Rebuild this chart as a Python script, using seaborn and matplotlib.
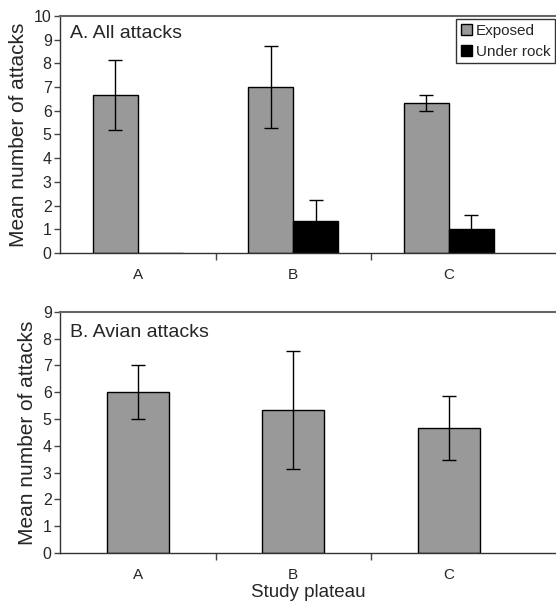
import pandas as pd
import matplotlib.pyplot as plt
import seaborn as sns

# Data
plateaus = ["A", "B", "C"]
exposed_all = [6.67, 7.0, 6.33]
exposed_all_err = [1.47, 1.73, 0.33]
rock_all = [0.0, 1.33, 1.0]
rock_all_err = [float("nan"), 0.89, 0.58]
avian = [6.0, 5.33, 4.67]
avian_err = [1.0, 2.2, 1.2]

sns.set_style("white")
plt.rcParams["font.family"] = ["Liberation Sans", "DejaVu Sans"]

df_all = pd.DataFrame({
    "plateau": plateaus * 2,
    "mean": exposed_all + rock_all,
    "err": exposed_all_err + rock_all_err,
    "site": ["Exposed"] * 3 + ["Under rock"] * 3,
})
df_avian = pd.DataFrame({"plateau": plateaus, "mean": avian, "err": avian_err})

fig = plt.figure(figsize=(5.56, 6.08), dpi=100)
ax1 = fig.add_axes([0.108, 0.584, 0.892, 0.39])
ax2 = fig.add_axes([0.108, 0.0905, 0.892, 0.3965])

# Top panel: all attacks
sns.barplot(data=df_all, x="plateau", y="mean", hue="site", ax=ax1,
            palette=["#999999", "#000000"], width=0.58, errorbar=None,
            edgecolor="black", linewidth=1, saturation=1)
for cont, site in zip(ax1.containers, ["Exposed", "Under rock"]):
    errs = df_all.loc[df_all["site"] == site, "err"].tolist()
    xs = [b.get_x() + b.get_width() / 2 for b in cont]
    ys = [b.get_height() for b in cont]
    ax1.errorbar(xs, ys, yerr=errs, fmt="none", ecolor="black",
                 elinewidth=1, capsize=5, capthick=1)
ax1.set_ylim(0, 10)
ax1.set_yticks(range(0, 11))
ax1.text(0.02, 0.925, "A. All attacks", transform=ax1.transAxes,
         fontsize=14, va="center", ha="left")
leg = ax1.legend(loc="upper right", bbox_to_anchor=(0.9975, 0.985),
                 fontsize=11, frameon=True, fancybox=False,
                 handlelength=0.75, handleheight=0.75, handletextpad=0.2,
                 borderpad=0.3, labelspacing=0.45, borderaxespad=0)
leg.get_frame().set_edgecolor("black")
leg.get_frame().set_linewidth(1)

# Bottom panel: avian attacks
sns.barplot(data=df_avian, x="plateau", y="mean", ax=ax2, color="#999999",
            width=0.4, errorbar=None, edgecolor="black", linewidth=1,
            saturation=1)
xs = [b.get_x() + b.get_width() / 2 for b in ax2.containers[0]]
ax2.errorbar(xs, avian, yerr=avian_err, fmt="none", ecolor="black",
             elinewidth=1, capsize=5, capthick=1)
ax2.set_ylim(0, 9)
ax2.set_yticks(range(0, 10))
ax2.text(0.02, 0.915, "B. Avian attacks", transform=ax2.transAxes,
         fontsize=14, va="center", ha="left")

for ax in (ax1, ax2):
    ax.set_xlim(-0.5, 2.69)
    ax.set_ylabel("Mean number of attacks", fontsize=15, labelpad=4)
    ax.set_xlabel("")
    ax.set_xticks([0.5, 1.5], minor=False)
    ax.set_xticks([0, 1, 2], minor=True)
    ax.set_xticklabels([])
    ax.set_xticklabels(plateaus, minor=True, fontsize=11)
    ax.tick_params(axis="x", which="major", direction="out", length=5,
                   width=1, color="#444444", bottom=True)
    ax.tick_params(axis="x", which="minor", length=0, pad=11, bottom=True)
    ax.tick_params(axis="y", direction="out", length=4, width=1,
                   color="#444444", labelsize=11.5, pad=2, left=True)
    for s in ["left", "bottom"]:
        ax.spines[s].set_color("#333333")
        ax.spines[s].set_linewidth(1)
    ax.spines["top"].set_color("#666666")
    ax.spines["top"].set_linewidth(1.5)
    ax.spines["right"].set_visible(False)

ax2.set_xlabel("Study plateau", fontsize=13.5, labelpad=1)

fig.savefig("out.png", dpi=100)
